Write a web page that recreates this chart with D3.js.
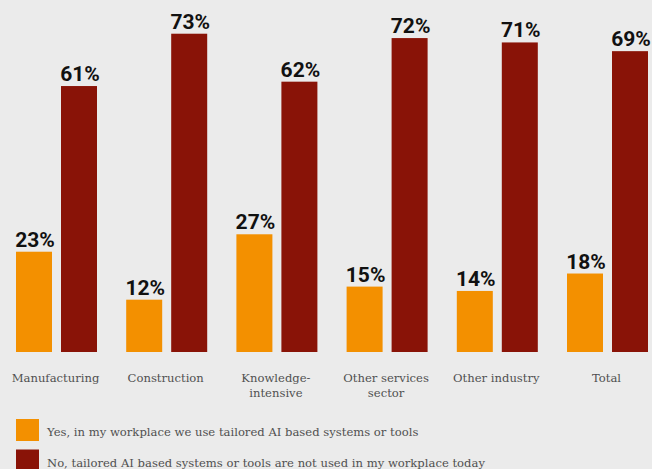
<!DOCTYPE html>
<html>
<head>
<meta charset="utf-8">
<script src="https://cdn.jsdelivr.net/npm/d3@7"></script>
<style>
  html, body { margin: 0; padding: 0; background: #ebebeb; }
  svg { display: block; }
</style>
</head>
<body>
<svg id="chart" width="652" height="469"></svg>
<script>
// Sector labels (multi-line labels split on "\n")
const categories = ["Manufacturing", "Construction", "Knowledge-\nintensive", "Other services\nsector", "Other industry", "Total"];
// Share of respondents, percent
const yesValues = [23, 12, 27, 15, 14, 18];
const noValues  = [61, 73, 62, 72, 71, 69];
const seriesNames = [
  "Yes, in my workplace we use tailored AI based systems or tools",
  "No, tailored AI based systems or tools are not used in my workplace today"
];
const seriesColors = ["#f39000", "#891307"];

const svg = d3.select("#chart");
const W = 652, H = 469;
svg.append("rect").attr("width", W).attr("height", H).attr("fill", "#ebebeb");

const baseline = 352;
const step = 110.2;
const groupWidth = 81;

const x0 = d3.scaleBand()
  .domain(categories)
  .range([16, 16 + step * (categories.length - 1) + groupWidth])
  .paddingInner((step - groupWidth) / step)
  .paddingOuter(0)
  .align(0);

const x1 = d3.scaleBand()
  .domain([0, 1])
  .range([0, x0.bandwidth()])
  .paddingInner(0.2)
  .paddingOuter(0);

const y = d3.scaleLinear().domain([0, 100]).range([baseline, baseline - 436]);

const rows = categories.map((c, i) => ({ cat: c, vals: [yesValues[i], noValues[i]] }));

const groups = svg.append("g").selectAll("g")
  .data(rows)
  .join("g")
  .attr("transform", d => `translate(${x0(d.cat)},0)`);

groups.selectAll("rect")
  .data(d => d.vals.map((v, k) => ({ v, k })))
  .join("rect")
  .attr("x", d => x1(d.k))
  .attr("width", x1.bandwidth())
  .attr("y", d => y(d.v))
  .attr("height", d => y(0) - y(d.v))
  .attr("fill", d => seriesColors[d.k]);

groups.selectAll("text.val")
  .data(d => d.vals.map((v, k) => ({ v, k })))
  .join("text")
  .attr("class", "val")
  .attr("x", d => x1(d.k) + x1.bandwidth() / 2 + 1)
  .attr("y", d => y(d.v) - 5)
  .attr("text-anchor", "middle")
  .attr("font-family", "Roboto, sans-serif")
  .attr("font-weight", 700)
  .attr("font-size", 21)
  .attr("fill", "#111")
  .text(d => d.v + "%");

// Category axis labels
const labelFont = "'DejaVu Serif', serif";
groups.append("text")
  .attr("x", x0.bandwidth() / 2 - 1)
  .attr("y", 382)
  .attr("text-anchor", "middle")
  .attr("font-family", labelFont)
  .attr("font-size", 11.6)
  .attr("fill", "#505050")
  .selectAll("tspan")
  .data(d => d.cat.split("\n"))
  .join("tspan")
  .attr("x", x0.bandwidth() / 2 - 1)
  .attr("dy", (d, i) => i === 0 ? 0 : 15)
  .text(d => d);

// Legend
const legend = svg.append("g").selectAll("g")
  .data(seriesNames)
  .join("g")
  .attr("transform", (d, i) => `translate(16,${419 + i * 30.5})`);

legend.append("rect")
  .attr("width", 23)
  .attr("height", 22)
  .attr("fill", (d, i) => seriesColors[i]);

legend.append("text")
  .attr("x", 31)
  .attr("y", 17)
  .attr("font-family", labelFont)
  .attr("font-size", 11.6)
  .attr("fill", "#505050")
  .text(d => d);
</script>
</body>
</html>
